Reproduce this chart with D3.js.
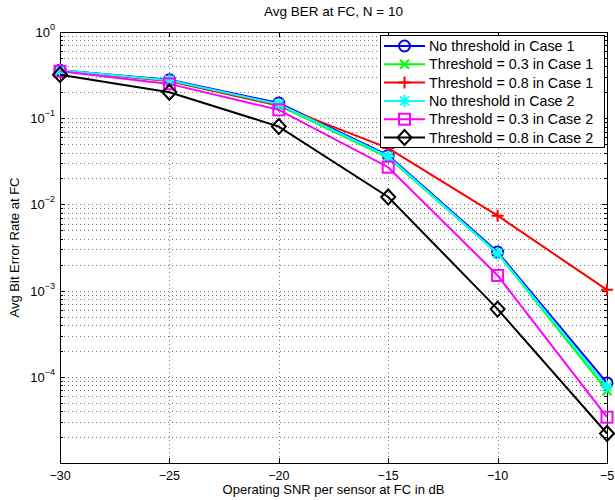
<!DOCTYPE html>
<html>
<head>
<meta charset="utf-8">
<script src="https://cdn.jsdelivr.net/npm/d3@7"></script>
<style>
  body { margin: 0; background: #fff; }
  svg { display: block; font-family: "Liberation Sans", Arial, sans-serif; }
</style>
</head>
<body>
<svg id="chart" width="615" height="500"></svg>
<script>
// SNR points (dB)
const snr = [-30, -25, -20, -15, -10, -5];
// Avg BER per curve
const noThrCase1  = [0.36, 0.28, 0.15, 0.037, 0.0028, 8.5e-5];
const thr03Case1  = [0.36, 0.27, 0.14, 0.035, 0.0027, 6.9e-5];
const thr08Case1  = [0.36, 0.27, 0.14, 0.045, 0.0074, 1.02e-3];
const noThrCase2  = [0.36, 0.275, 0.145, 0.036, 0.0027, 7.7e-5];
const thr03Case2  = [0.35, 0.25, 0.125, 0.027, 0.0015, 3.4e-5];
const thr08Case2  = [0.32, 0.20, 0.080, 0.0122, 6.1e-4, 2.2e-5];
const seriesNames = ["No threshold in Case 1", "Threshold = 0.3 in Case 1", "Threshold = 0.8 in Case 1",
                     "No threshold in Case 2", "Threshold = 0.3 in Case 2", "Threshold = 0.8 in Case 2"];
const xTicks = [-30, -25, -20, -15, -10, -5];
const yExps = [0, -1, -2, -3, -4]; // no label shown at 10^-5

const series = [
  { name: seriesNames[0], vals: noThrCase1, color: "#0000ff", mk: "circle" },
  { name: seriesNames[1], vals: thr03Case1, color: "#00ff00", mk: "x" },
  { name: seriesNames[2], vals: thr08Case1, color: "#ff0000", mk: "plus" },
  { name: seriesNames[3], vals: noThrCase2, color: "#00ffff", mk: "star" },
  { name: seriesNames[4], vals: thr03Case2, color: "#ff00ff", mk: "square" },
  { name: seriesNames[5], vals: thr08Case2, color: "#000000", mk: "diamond" }
];

const L = 60, R = 607, T = 32, B = 463;
const svg = d3.select("#chart");
const x = d3.scaleLinear().domain([-30, -5]).range([L, R]);
const y = d3.scaleLog().domain([1e-5, 1]).range([B, T]);
const minus = (s) => String(s).replace("-", "\u2212");

// ---- grid (dotted) ----
const grid = svg.append("g").attr("stroke", "#777").attr("stroke-width", 1).attr("stroke-dasharray", "1,3");
xTicks.slice(1, -1).forEach((v) => {
  grid.append("line").attr("x1", Math.round(x(v)) + 0.5).attr("x2", Math.round(x(v)) + 0.5).attr("y1", T).attr("y2", B);
});
const minorY = [];
for (let e = -5; e < 0; e++) for (let m = 1; m <= 9; m++) minorY.push(m * Math.pow(10, e));
minorY.forEach((v) => {
  if (v <= 1e-5) return;
  grid.append("line").attr("x1", L).attr("x2", R).attr("y1", Math.round(y(v)) + 0.5).attr("y2", Math.round(y(v)) + 0.5);
});

// ---- ticks (inside) ----
const tk = svg.append("g").attr("stroke", "#000").attr("stroke-width", 1);
xTicks.forEach((v) => {
  const px = Math.round(x(v)) + 0.5;
  tk.append("line").attr("x1", px).attr("x2", px).attr("y1", B).attr("y2", B - 5);
  tk.append("line").attr("x1", px).attr("x2", px).attr("y1", T).attr("y2", T + 5);
});
minorY.concat([1]).forEach((v) => {
  const py = Math.round(y(v)) + 0.5;
  const major = Math.abs(Math.log10(v) - Math.round(Math.log10(v))) < 1e-9;
  const len = major ? 5 : 3;
  tk.append("line").attr("x1", L).attr("x2", L + len).attr("y1", py).attr("y2", py);
  tk.append("line").attr("x1", R).attr("x2", R - len).attr("y1", py).attr("y2", py);
});

// ---- box ----
svg.append("rect").attr("x", L + 0.5).attr("y", T + 0.5).attr("width", R - L).attr("height", B - T)
  .attr("fill", "none").attr("stroke", "#000").attr("stroke-width", 1);

// ---- tick labels ----
xTicks.forEach((v) => {
  svg.append("text").attr("x", x(v)).attr("y", B + 17).attr("text-anchor", "middle")
    .attr("font-size", 12.5).text(minus(v));
});
yExps.forEach((e) => {
  const t = svg.append("text").attr("x", L - 5).attr("y", y(Math.pow(10, e)) + 5).attr("text-anchor", "end").attr("font-size", 13);
  t.append("tspan").text("10");
  t.append("tspan").attr("dy", -7).attr("font-size", 9).text(minus(e));
});

// ---- labels ----
svg.append("text").attr("x", (L + R) / 2).attr("y", 16).attr("text-anchor", "middle").attr("font-size", 13.5)
  .text("Avg BER at FC, N = 10");
svg.append("text").attr("x", (L + R) / 2).attr("y", 494).attr("text-anchor", "middle").attr("font-size", 13)
  .text("Operating SNR per sensor at FC in dB");
svg.append("text").attr("transform", `translate(19,${(T + B) / 2}) rotate(-90)`).attr("text-anchor", "middle")
  .attr("font-size", 13).text("Avg Bit Error Rate at FC");

// ---- markers ----
function marker(g, mk, cx, cy, color) {
  const s = g.append("g").attr("fill", "none").attr("stroke", color).attr("stroke-width", 2);
  if (mk === "circle") s.append("circle").attr("cx", cx).attr("cy", cy).attr("r", 5.5);
  else if (mk === "square") s.append("rect").attr("x", cx - 5.5).attr("y", cy - 5.5).attr("width", 11).attr("height", 11);
  else if (mk === "diamond") s.append("path").attr("d", `M${cx},${cy - 7.5}L${cx + 7},${cy}L${cx},${cy + 7.5}L${cx - 7},${cy}Z`);
  else if (mk === "plus") s.append("path").attr("d", `M${cx - 6},${cy}H${cx + 6}M${cx},${cy - 6}V${cy + 6}`);
  else if (mk === "x") s.append("path").attr("d", `M${cx - 4.5},${cy - 4.5}L${cx + 4.5},${cy + 4.5}M${cx - 4.5},${cy + 4.5}L${cx + 4.5},${cy - 4.5}`);
  else if (mk === "star") s.append("path").attr("d", `M${cx - 6},${cy}H${cx + 6}M${cx},${cy - 6}V${cy + 6}M${cx - 4.5},${cy - 4.5}L${cx + 4.5},${cy + 4.5}M${cx - 4.5},${cy + 4.5}L${cx + 4.5},${cy - 4.5}`);
}

// ---- curves ----
const plot = svg.append("g");
const line = d3.line().x((d) => x(d[0])).y((d) => y(d[1]));
series.forEach((s) => {
  const pts = snr.map((v, i) => [v, s.vals[i]]);
  plot.append("path").datum(pts).attr("d", line).attr("fill", "none").attr("stroke", s.color).attr("stroke-width", 2);
  pts.forEach((p) => marker(plot, s.mk, x(p[0]), y(p[1]), s.color));
});

// ---- legend ----
const lg = svg.append("g");
lg.append("rect").attr("x", 380.5).attr("y", 35.5).attr("width", 224).attr("height", 112)
  .attr("fill", "#fff").attr("stroke", "#000").attr("stroke-width", 1);
series.forEach((s, i) => {
  const ly = 46 + i * 18.3;
  lg.append("line").attr("x1", 384).attr("x2", 425).attr("y1", ly).attr("y2", ly).attr("stroke", s.color).attr("stroke-width", 2);
  marker(lg, s.mk, 404.5, ly, s.color);
  lg.append("text").attr("x", 429).attr("y", ly + 5).attr("font-size", 14.3).text(s.name);
});
</script>
</body>
</html>
